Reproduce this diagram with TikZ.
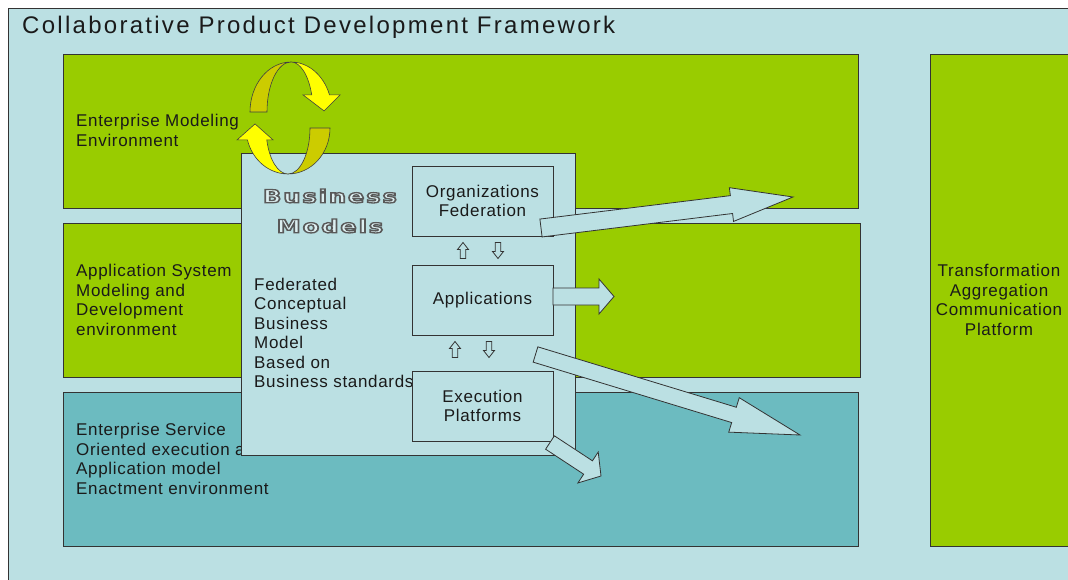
\documentclass[tikz,border=0pt]{standalone}
\usepackage{fontspec}
\setmainfont{Liberation Sans}[LetterSpace=4]
\newfontfamily\cpdtitlefont{Liberation Sans}[LetterSpace=9.5]
\newfontfamily\cpdheavyfont{DejaVu Sans}[LetterSpace=8]
\usepackage{tikz}
\usetikzlibrary{calc}
\definecolor{cpdsky}{HTML}{BBE0E3}
\definecolor{cpdgreen}{HTML}{99CC00}
\definecolor{cpdteal}{HTML}{6CBBC0}
\definecolor{cpdline}{HTML}{333333}
\definecolor{cpdink}{HTML}{1A1A1A}
\definecolor{cpdyellow}{HTML}{FFFF00}
\definecolor{cpdolive}{HTML}{CCCC00}
\definecolor{cpdbmface}{HTML}{DDEFF1}
\newcommand{\cpdtext}{\fontsize{17}{19.5}\selectfont}
\newcommand{\cpdbmtext}{\cpdheavyfont\bfseries\fontsize{18}{30}\selectfont}
% hollow lettering: fill plus grey stroke
\newcommand{\cpdoutline}[1]{%
  \special{pdf:literal direct 2 Tr 1.3 w 0.35 0.35 0.35 RG}#1%
  \special{pdf:literal direct 0 Tr}}
\tikzset{
  cpdlayer/.style={draw=cpdline,line width=0.8pt,anchor=north west,inner sep=0pt},
  cpdgreenlayer/.style={cpdlayer,fill=cpdgreen},
  cpdteallayer/.style={cpdlayer,fill=cpdteal},
  cpdpanel/.style={cpdlayer,fill=cpdsky},
  cpdunit/.style={draw=cpdline,line width=0.8pt,fill=cpdsky,inner sep=0pt,
                  minimum width=141pt,minimum height=70pt,align=center,
                  font=\cpdtext,text=cpdink},
  cpdlabel/.style={align=left,inner sep=0pt,anchor=west,font=\cpdtext,text=cpdink},
  cpdfat/.style={draw=cpdline,line width=0.8pt,fill=cpdsky,line join=miter},
  cpdswirl/.style={draw=black!75,line width=0.6pt},
  cpdbm/.style={font=\cpdbmtext,align=center,inner sep=0pt,xscale=1.34}
}
% block arrow: #1 tail, #2 tip, #3 half shaft, #4 half head, #5 head length
\newcommand{\cpdfatarrow}[5]{%
  \coordinate (fa-head) at ($(#2)!#5!(#1)$);
  \draw[cpdfat] ($(#1)!#3!90:(#2)$) -- ($(fa-head)!#3!90:(#2)$)
    -- ($(fa-head)!#4!90:(#2)$) -- (#2) -- ($(fa-head)!#4!-90:(#2)$)
    -- ($(fa-head)!#3!-90:(#2)$) -- ($(#1)!#3!-90:(#2)$) -- cycle;}

\begin{document}
\begin{tikzpicture}[x=1pt,y=1pt]
  \useasboundingbox (0,0) rectangle (1068,-580);
  \clip (0,0) rectangle (1068,-580);

  % frame and title
  \node[cpdpanel,minimum width=1100pt,minimum height=620pt] (frame) at (8,-8) {};
  \node[anchor=west,inner sep=0pt,text=cpdink,
        font=\cpdtitlefont\fontsize{24}{28}\selectfont] (title) at (22,-27)
    {Collaborative Product Development Framework};

  % layers
  \node[cpdgreenlayer,minimum width=795pt,minimum height=154pt] (eme) at (63,-54) {};
  \node[cpdgreenlayer,minimum width=797pt,minimum height=154pt] (asm) at (63,-223) {};
  \node[cpdteallayer,minimum width=795pt,minimum height=154pt] (eso) at (63,-392) {};
  \node[cpdgreenlayer,minimum width=160pt,minimum height=492pt] (tacp) at (930,-54) {};

  \node[cpdlabel] (emetext) at (76,-130.5) {Enterprise Modeling\\Environment};
  \node[cpdlabel] (asmtext) at (76,-300)
    {Application System\\Modeling and\\Development\\environment};
  \node[cpdlabel] (esotext) at (76,-459)
    {Enterprise Service\\Oriented execution and\\Application model\\Enactment environment};
  \node[cpdlabel,align=center,anchor=center] (tacptext) at (999,-300)
    {Transformation\\Aggregation\\Communication\\Platform};

  % upper swirl
  \coordinate (swirltop) at (291,-112);
  \filldraw[cpdswirl,fill=cpdolive] ($(swirltop)+(-41,0)$)
    arc[start angle=180,end angle=90,x radius=41,y radius=50]
    arc[start angle=90,end angle=180,x radius=24,y radius=50] -- cycle;
  \filldraw[cpdswirl,fill=cpdyellow] ($(swirltop)+(0,50)$)
    arc[start angle=90,end angle=20,x radius=41,y radius=50]
    -- ++(10.5,0) -- ++(-16,-16) -- ++(-21,16) -- ++(8.7,0)
    arc[start angle=20,end angle=90,x radius=22,y radius=50] -- cycle;

  % business models panel
  \node[cpdpanel,minimum width=334pt,minimum height=302pt] (panel) at (241,-153) {};
  \node[cpdbm,text=cpdbmface] (bm) at (330,-211)
    {\cpdoutline{Business}\\\cpdoutline{Models}};
  \node[cpdlabel] (fcbm) at (254,-333)
    {Federated\\Conceptual\\Business\\Model\\Based on\\Business standards};

  \node[cpdunit] (fed) at (482.5,-201) {Organizations\\Federation};
  \node[cpdunit] (app) at (482.5,-300) {Applications};
  \node[cpdunit] (exec) at (482.5,-406) {Execution\\Platforms};

  % small up/down arrows
  \coordinate (up1s) at (463,-258.5); \coordinate (up1e) at (463,-242.5);
  \coordinate (dn1s) at (498,-242.5); \coordinate (dn1e) at (498,-258.5);
  \coordinate (up2s) at (455,-357.5); \coordinate (up2e) at (455,-341.5);
  \coordinate (dn2s) at (489,-341.5); \coordinate (dn2e) at (489,-357.5);
  \cpdfatarrow{up1s}{up1e}{2.8pt}{5.5pt}{7pt}
  \cpdfatarrow{dn1s}{dn1e}{2.8pt}{5.5pt}{7pt}
  \cpdfatarrow{up2s}{up2e}{2.8pt}{5.5pt}{7pt}
  \cpdfatarrow{dn2s}{dn2e}{2.8pt}{5.5pt}{7pt}

  % block arrows
  \coordinate (fedtail) at (541,-228);    \coordinate (fedtip) at (793,-197);
  \coordinate (apptail) at (553,-296.5);  \coordinate (apptip) at (614,-296.5);
  \coordinate (lowtail) at (535.5,-354.5);\coordinate (lowtip) at (800,-435);
  \coordinate (exectail) at (550,-442.5); \coordinate (exectip) at (601,-476);
  \cpdfatarrow{fedtail}{fedtip}{9pt}{17pt}{62pt}
  \cpdfatarrow{apptail}{apptip}{8.5pt}{17.5pt}{15pt}
  \cpdfatarrow{lowtail}{lowtip}{8pt}{18pt}{69pt}
  \cpdfatarrow{exectail}{exectip}{8pt}{18.5pt}{15.5pt}

  % lower swirl
  \coordinate (swirlbot) at (288,-128);
  \filldraw[cpdswirl,fill=cpdolive] ($(swirlbot)+(42,0)$)
    arc[start angle=0,end angle=-90,x radius=42,y radius=46]
    arc[start angle=-90,end angle=0,x radius=22,y radius=46] -- cycle;
  \filldraw[cpdswirl,fill=cpdyellow] ($(swirlbot)+(0,-46)$)
    arc[start angle=-90,end angle=-165,x radius=42,y radius=46]
    -- ++(-10.4,0) -- ++(18,16) -- ++(18,-16) -- ++(-6.25,0)
    arc[start angle=-165,end angle=-90,x radius=22,y radius=46] -- cycle;
\end{tikzpicture}
\end{document}
